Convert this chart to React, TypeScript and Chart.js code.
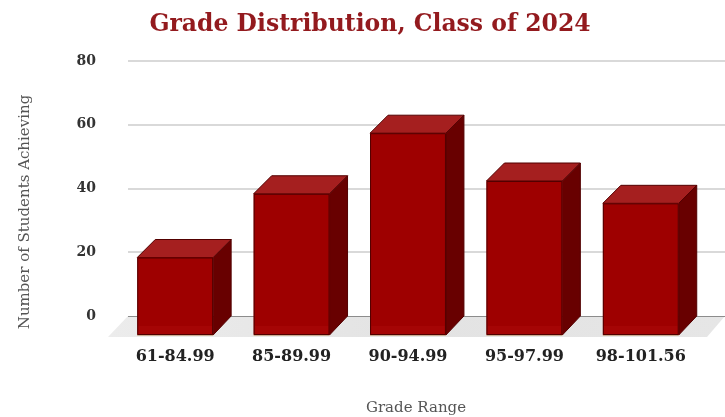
import React, { useEffect, useRef } from "react";
import { Chart, registerables } from "chart.js";

Chart.register(...registerables);

const categories = ["61-84.99", "85-89.99", "90-94.99", "95-97.99", "98-101.56"];
const students = [24, 44, 63, 48, 41];
const yMin = 0;
const yMax = 80;
const yStep = 20;
const titleText = "Grade Distribution, Class of 2024";
const xTitleText = "Grade Range";
const yTitleText = "Number of Students Achieving";

const DX = 18;
const DY = 18;
const SERIF = "'DejaVu Serif', 'Liberation Serif', serif";

const scenePlugin = {
  id: "scene3d",
  beforeDatasetsDraw(chart: any) {
    const ctx = chart.ctx;
    const area = chart.chartArea;
    const yScale = chart.scales.y;
    const W = chart.width;
    const y0 = yScale.getPixelForValue(0);
    const gridLeft = area.left - 7;
    ctx.save();
    // floor
    const g = ctx.createLinearGradient(gridLeft - DX, 0, W, 0);
    g.addColorStop(0, "#ececec");
    g.addColorStop(0.5, "#e3e3e3");
    g.addColorStop(1, "#e6e6e6");
    ctx.fillStyle = g;
    ctx.beginPath();
    ctx.moveTo(gridLeft, y0);
    ctx.lineTo(W, y0);
    ctx.lineTo(W - DX, y0 + DY + 3);
    ctx.lineTo(gridLeft - DX - 2, y0 + DY + 3);
    ctx.closePath();
    ctx.fill();
    // grid lines
    yScale.ticks.forEach((t: any) => {
      const y = Math.round(yScale.getPixelForValue(t.value));
      ctx.beginPath();
      if (t.value === 0) {
        ctx.strokeStyle = "#8c8c8c";
        ctx.lineWidth = 1;
        ctx.moveTo(gridLeft, y + 0.5);
        ctx.lineTo(W, y + 0.5);
      } else {
        ctx.strokeStyle = "#d9d9d9";
        ctx.lineWidth = 2;
        ctx.moveTo(gridLeft, y);
        ctx.lineTo(W, y);
      }
      ctx.stroke();
    });
    ctx.restore();
  },
  afterDatasetsDraw(chart: any) {
    const ctx = chart.ctx;
    const meta = chart.getDatasetMeta(0);
    ctx.save();
    meta.data.forEach((bar: any) => {
      const p = bar.getProps(["x", "y", "base", "width"], true);
      const bx1 = p.x - p.width / 2;
      const bx2 = p.x + p.width / 2;
      const by = p.y;
      const bb = p.base;
      const fx1 = bx1 - DX;
      const fx2 = bx2 - DX;
      const fy = by + DY;
      const fb = bb + DY + 1;
      ctx.lineWidth = 1;
      ctx.strokeStyle = "#520000";
      ctx.lineJoin = "round";
      // side face
      ctx.fillStyle = "#680000";
      ctx.beginPath();
      ctx.moveTo(fx2, fy);
      ctx.lineTo(bx2, by);
      ctx.lineTo(bx2, bb);
      ctx.lineTo(fx2, fb);
      ctx.closePath();
      ctx.fill();
      ctx.stroke();
      // top face
      ctx.fillStyle = "#a51f1f";
      ctx.beginPath();
      ctx.moveTo(fx1, fy);
      ctx.lineTo(fx2, fy);
      ctx.lineTo(bx2, by);
      ctx.lineTo(bx1, by);
      ctx.closePath();
      ctx.fill();
      ctx.stroke();
      // front face
      ctx.fillStyle = "#9e0000";
      ctx.fillRect(fx1, fy, fx2 - fx1, fb - fy);
      ctx.fillStyle = "rgba(255,60,60,0.08)";
      ctx.fillRect(fx1 + 1, fb - 9, fx2 - fx1 - 2, 8);
      ctx.strokeRect(fx1 + 0.5, fy + 0.5, fx2 - fx1 - 1, fb - fy - 1);
      ctx.strokeStyle = "rgba(190,150,110,0.7)";
      ctx.beginPath();
      ctx.moveTo(fx1, fb + 0.5);
      ctx.lineTo(fx2, fb + 0.5);
      ctx.stroke();
    });
    ctx.restore();
  },
  afterDraw(chart: any) {
    const ctx = chart.ctx;
    ctx.save();
    ctx.textAlign = "center";
    ctx.textBaseline = "middle";
    ctx.fillStyle = "#931a1e";
    ctx.font = `bold 23.5px ${SERIF}`;
    ctx.fillText(titleText, 370, 25);
    ctx.fillStyle = "#555555";
    ctx.font = `15px ${SERIF}`;
    ctx.fillText(xTitleText, 416, 408);
    ctx.translate(25, 212);
    ctx.rotate(-Math.PI / 2);
    ctx.fillText(yTitleText, 0, 0);
    ctx.restore();
  },
};

export default function App() {
  const ref = useRef<HTMLCanvasElement | null>(null);
  useEffect(() => {
    document.body.style.margin = "0";
    const canvas = ref.current;
    if (!canvas) return;
    const chart = new Chart(canvas, {
      type: "bar",
      data: {
        labels: categories,
        datasets: [
          {
            data: students,
            backgroundColor: "rgba(0,0,0,0)",
            borderWidth: 0,
            barPercentage: 0.652,
            categoryPercentage: 1,
          },
        ],
      },
      options: {
        responsive: false,
        animation: false,
        events: [],
        layout: { padding: { left: 0, right: 8, top: 61, bottom: 0 } },
        plugins: {
          legend: { display: false },
          tooltip: { enabled: false },
          title: { display: false },
        },
        scales: {
          x: {
            grid: { display: false, drawTicks: false },
            border: { display: false },
            afterFit: (s: any) => {
              s.height = 101;
              s.paddingLeft = 0;
              s.paddingRight = 0;
            },
            ticks: {
              labelOffset: -DX,
              padding: 31,
              color: "#222222",
              font: { family: SERIF, size: 16, weight: "bold" },
              maxRotation: 0,
              autoSkip: false,
            },
          },
          y: {
            min: yMin,
            max: yMax,
            grid: { display: false, drawTicks: false },
            border: { display: false },
            afterFit: (s: any) => {
              s.width = 135;
              s.paddingTop = 0;
              s.paddingBottom = 0;
            },
            ticks: {
              stepSize: yStep,
              padding: 39,
              color: "#333333",
              font: { family: SERIF, size: 14, weight: "bold" },
            },
          },
        },
      },
      plugins: [scenePlugin],
    });
    return () => chart.destroy();
  }, []);
  return (
    <div style={{ position: "fixed", left: 0, top: 0, width: 725, height: 417, background: "#ffffff" }}>
      <canvas ref={ref} width={725} height={417} style={{ display: "block" }} />
    </div>
  );
}
